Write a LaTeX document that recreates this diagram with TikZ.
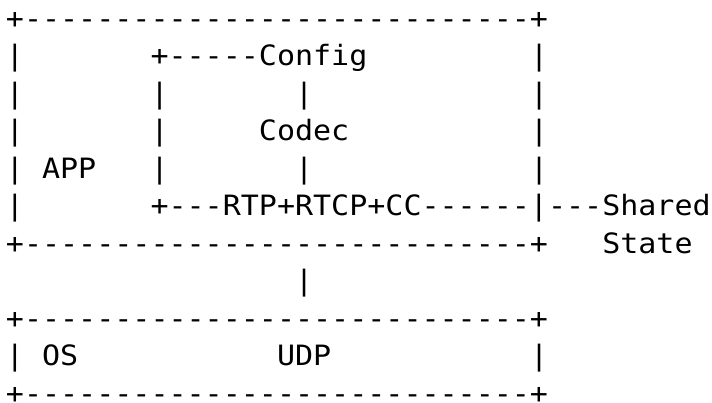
\documentclass[tikz,border=0pt]{standalone}
\usepackage{fontspec}
\setmonofont[FakeStretch=1.072]{DejaVu Sans Mono}
\newcommand{\cw}{18.07}
\newcommand{\lh}{37.5}
\tikzset{
  asc/.style={anchor=base west, inner sep=0pt, outer sep=0pt,
    font=\ttfamily\fontsize{28pt}{28pt}\selectfont, text=black},
}
% \cell{name}{col}{row}{text}
\newcommand{\cell}[4]{\node[asc] (#1) at ({5.97+\cw*#2},{402-28.3-\lh*#3}) {#4};}
\begin{document}
\begin{tikzpicture}[x=1pt,y=1pt]
\useasboundingbox (0,0) rectangle (712,402);
% APP box
\cell{apptop}{0}{0}{+----------------------------+}
\cell{l1a}{0}{1}{|}
\cell{config}{8}{1}{+-----Config}
\cell{l1b}{29}{1}{|}
\cell{l2a}{0}{2}{|}
\cell{l2b}{8}{2}{|}
\cell{l2c}{16}{2}{|}
\cell{l2d}{29}{2}{|}
\cell{l3a}{0}{3}{|}
\cell{l3b}{8}{3}{|}
\cell{codec}{14}{3}{Codec}
\cell{l3d}{29}{3}{|}
\cell{l4a}{0}{4}{|}
\cell{app}{2}{4}{APP}
\cell{l4b}{8}{4}{|}
\cell{l4c}{16}{4}{|}
\cell{l4d}{29}{4}{|}
\cell{l5a}{0}{5}{|}
\cell{rtp}{8}{5}{+---RTP+RTCP+CC------|---Shared}
\cell{appbot}{0}{6}{+----------------------------+}
\cell{state}{33}{6}{State}
% link
\cell{link}{16}{7}{|}
% OS box
\cell{ostop}{0}{8}{+----------------------------+}
\cell{l9a}{0}{9}{|}
\cell{os}{2}{9}{OS}
\cell{udp}{15}{9}{UDP}
\cell{l9d}{29}{9}{|}
\cell{osbot}{0}{10}{+----------------------------+}
\end{tikzpicture}
\end{document}
